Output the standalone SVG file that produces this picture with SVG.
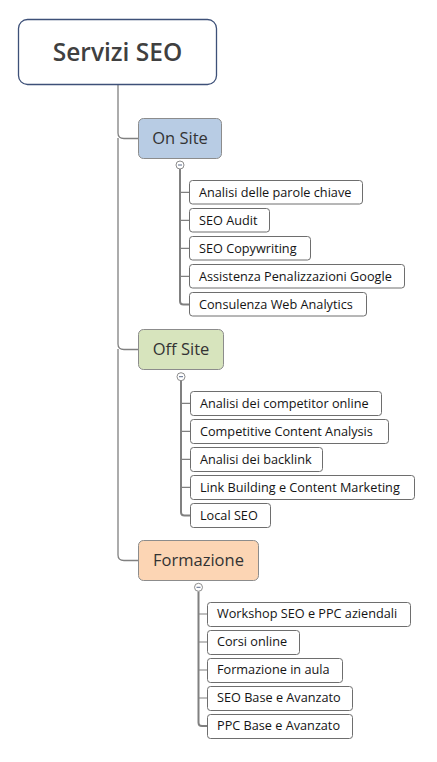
<svg xmlns="http://www.w3.org/2000/svg" width="437" height="762" viewBox="0 0 437 762">
<style>
.bg{fill:#ffffff}
.conn{fill:none;stroke:#808080;stroke-width:1.3}
.sub{fill:none;stroke:#808080;stroke-width:2}
.tick{fill:none;stroke:#808080;stroke-width:1.2}
.leaf rect{fill:#ffffff;stroke:#6e6e6e;stroke-width:1}
.leaf text{font-family:"Open Sans","Noto Sans",sans-serif;font-size:12.7px;fill:#141414}
.main rect{stroke:#8c8c8c;stroke-width:1}
.main text{font-family:"Open Sans","Noto Sans",sans-serif;font-size:16.5px;fill:#333333;text-anchor:middle}
.tog circle{fill:#ffffff;stroke:#8c8c8c;stroke-width:1}
.tog line{stroke:#5a6a8a;stroke-width:1}
</style>
<rect class="bg" x="0" y="0" width="437" height="762"/>
<g id="connectors">
<path class="conn" d="M118 84.5 V133 Q118 138.5 124 138.5 H138.5"/>
<path class="conn" d="M118 138 V344 Q118 349.5 124 349.5 H138.5"/>
<path class="conn" d="M118 349 V555 Q118 560.5 124 560.5 H138.5"/>
<path class="sub" d="M180 169 V301 Q180 304.5 183.5 304.5 H189.5"/>
<path class="tick" d="M180 192.3 H189.5 M180 220.3 H189.5 M180 248.3 H189.5 M180 276.3 H189.5"/>
<path class="sub" d="M181 381 V512 Q181 515.5 184.5 515.5 H190.5"/>
<path class="tick" d="M181 403.3 H190.5 M181 431.3 H190.5 M181 459.3 H190.5 M181 487.3 H190.5"/>
<path class="sub" d="M198.5 591.5 V722.5 Q198.5 726 202 726 H207.5"/>
<path class="tick" d="M198.5 614 H207.5 M198.5 642 H207.5 M198.5 670 H207.5 M198.5 698 H207.5"/>
</g>
<g id="root">
<rect x="18.5" y="19.5" width="198" height="65" rx="9" fill="#ffffff" stroke="#3d5078" stroke-width="1.3"/>
<text x="117.5" y="61" font-family="'Open Sans','Noto Sans',sans-serif" font-size="24.5" font-weight="600" fill="#404040" text-anchor="middle">Servizi SEO</text>
</g>
<g id="onsite" class="main">
<rect x="138.5" y="118.5" width="83" height="40" rx="5" fill="#b8cce4"/>
<text x="180" y="144">On Site</text>
</g>
<g class="tog" id="tog1"><circle cx="180" cy="165" r="4"/><line x1="178" y1="165" x2="182" y2="165"/></g>
<g id="offsite" class="main">
<rect x="138.5" y="329.5" width="85" height="40" rx="5" fill="#d7e4bd"/>
<text x="181" y="355">Off Site</text>
</g>
<g class="tog" id="tog2"><circle cx="181" cy="376.7" r="4"/><line x1="179" y1="376.7" x2="183" y2="376.7"/></g>
<g id="formazione" class="main">
<rect x="138.5" y="540.5" width="120" height="40" rx="5" fill="#fcd5b4"/>
<text x="198.5" y="566">Formazione</text>
</g>
<g class="tog" id="tog3"><circle cx="198.5" cy="587.3" r="4"/><line x1="196.5" y1="587.3" x2="200.5" y2="587.3"/></g>
<g id="n1" class="leaf"><rect x="189.5" y="180.5" width="173" height="23.5" rx="3"/><text x="199" y="196.7">Analisi delle parole chiave</text></g>
<g id="n2" class="leaf"><rect x="189.5" y="208.5" width="80" height="23.5" rx="3"/><text x="199" y="224.7">SEO Audit</text></g>
<g id="n3" class="leaf"><rect x="189.5" y="236.5" width="121" height="23.5" rx="3"/><text x="199" y="252.7">SEO Copywriting</text></g>
<g id="n4" class="leaf"><rect x="189.5" y="264.5" width="215" height="23.5" rx="3"/><text x="199" y="280.7">Assistenza Penalizzazioni Google</text></g>
<g id="n5" class="leaf"><rect x="189.5" y="292.5" width="177" height="23.5" rx="3"/><text x="199" y="308.7">Consulenza Web Analytics</text></g>
<g id="n6" class="leaf"><rect x="190.5" y="391.5" width="191" height="24" rx="3"/><text x="200" y="407.7">Analisi dei competitor online</text></g>
<g id="n7" class="leaf"><rect x="190.5" y="419.5" width="198" height="24" rx="3"/><text x="200" y="435.7">Competitive Content Analysis</text></g>
<g id="n8" class="leaf"><rect x="190.5" y="447.5" width="132" height="24" rx="3"/><text x="200" y="463.7">Analisi dei backlink</text></g>
<g id="n9" class="leaf"><rect x="190.5" y="475.5" width="224" height="24" rx="3"/><text x="200" y="491.7">Link Building e Content Marketing</text></g>
<g id="n10" class="leaf"><rect x="190.5" y="503.5" width="80" height="24" rx="3"/><text x="200" y="519.7">Local SEO</text></g>
<g id="n11" class="leaf"><rect x="207.5" y="602.5" width="203" height="24" rx="3"/><text x="217" y="618.4">Workshop SEO e PPC aziendali</text></g>
<g id="n12" class="leaf"><rect x="207.5" y="630.5" width="92" height="24" rx="3"/><text x="217" y="646.4">Corsi online</text></g>
<g id="n13" class="leaf"><rect x="207.5" y="658.5" width="135" height="24" rx="3"/><text x="217" y="674.4">Formazione in aula</text></g>
<g id="n14" class="leaf"><rect x="207.5" y="686.5" width="145" height="24" rx="3"/><text x="217" y="702.4">SEO Base e Avanzato</text></g>
<g id="n15" class="leaf"><rect x="207.5" y="714.5" width="145" height="24" rx="3"/><text x="217" y="730.4">PPC Base e Avanzato</text></g>
</svg>
